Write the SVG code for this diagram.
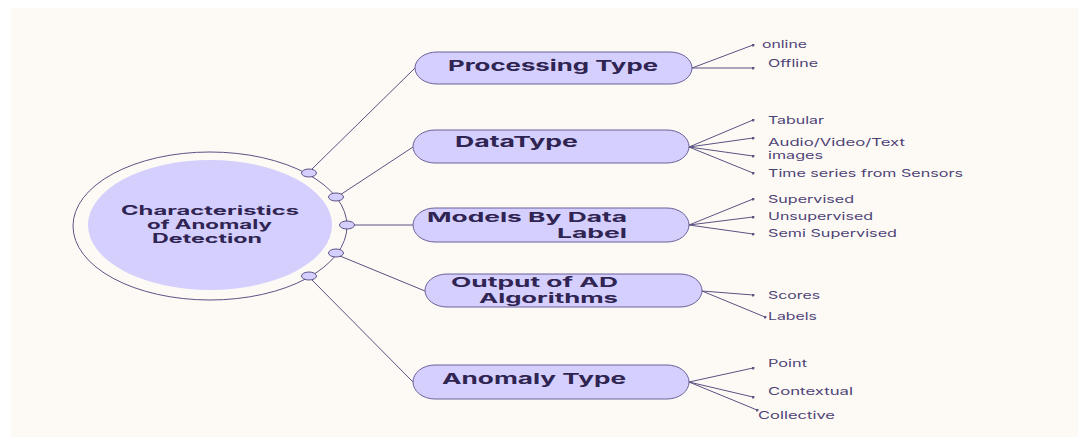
<svg xmlns="http://www.w3.org/2000/svg" width="1078" height="437" viewBox="0 0 1078 437">
<defs>
<marker id="dot" viewBox="0 0 4 4" refX="2" refY="2" markerWidth="3" markerHeight="3" markerUnits="userSpaceOnUse"><circle cx="2" cy="2" r="2" fill="#5b5182"/></marker>
<style>
.bg{fill:#fdfaf5}
.pill{fill:#d4cffc;stroke:#6b6099;stroke-width:1}
.hub{fill:#d4cffc;stroke:#5d5387;stroke-width:1}
.ln{stroke:#5b5182;stroke-width:1;fill:none}
.leaf{stroke:#5b5182;stroke-width:1;fill:none;marker-end:url(#dot)}
.ht{font-family:Inter,"Liberation Sans",sans-serif;font-weight:700;fill:#2f2452;font-size:15px}
.ht2{font-family:Inter,"Liberation Sans",sans-serif;font-weight:700;fill:#2f2452;font-size:13.5px}
.ct{font-family:Inter,"Liberation Sans",sans-serif;font-weight:700;fill:#2f2452;font-size:12.5px}
.lt{font-family:Inter,"Liberation Sans",sans-serif;fill:#4d4275;font-size:10.5px}
</style>
</defs>
<rect x="0" y="0" width="1078" height="437" fill="#ffffff"/>
<rect class="bg" x="11" y="8" width="1067" height="429"/>

<g id="connectors">
<line class="ln" x1="312" y1="169" x2="415" y2="68"/>
<line class="ln" x1="340" y1="195" x2="413" y2="147"/>
<line class="ln" x1="354" y1="225" x2="413" y2="225"/>
<line class="ln" x1="340" y1="256" x2="425" y2="291"/>
<line class="ln" x1="312" y1="280" x2="413" y2="382"/>

<line class="leaf" x1="692" y1="68" x2="753" y2="45"/>
<line class="leaf" x1="692" y1="68" x2="753" y2="68"/>

<line class="leaf" x1="689" y1="147" x2="753" y2="120"/>
<line class="leaf" x1="689" y1="147" x2="753" y2="138"/>
<line class="leaf" x1="689" y1="147" x2="753" y2="156"/>
<line class="leaf" x1="689" y1="147" x2="753" y2="173"/>

<line class="leaf" x1="689" y1="225" x2="753" y2="199"/>
<line class="leaf" x1="689" y1="225" x2="753" y2="217"/>
<line class="leaf" x1="689" y1="225" x2="753" y2="234"/>

<line class="leaf" x1="702" y1="291" x2="753" y2="295"/>
<line class="leaf" x1="702" y1="291" x2="765" y2="317"/>

<line class="leaf" x1="689" y1="382" x2="753" y2="368"/>
<line class="leaf" x1="689" y1="382" x2="753" y2="397"/>
<line class="leaf" x1="689" y1="382" x2="757" y2="410"/>
</g>

<g id="center">
<ellipse cx="210" cy="226" rx="137" ry="74" fill="none" stroke="#5d5387" stroke-width="1"/>
<ellipse cx="210" cy="225" rx="122" ry="65" fill="#d4cffc"/>
<text class="ct" x="121" y="215" textLength="178" lengthAdjust="spacingAndGlyphs">Characteristics</text>
<text class="ct" x="147" y="229" textLength="125" lengthAdjust="spacingAndGlyphs">of Anomaly</text>
<text class="ct" x="152" y="243" textLength="110" lengthAdjust="spacingAndGlyphs">Detection</text>
<ellipse class="hub" cx="309" cy="173" rx="7.5" ry="4"/>
<ellipse class="hub" cx="336" cy="197" rx="7.5" ry="4"/>
<ellipse class="hub" cx="347" cy="225" rx="7.5" ry="4"/>
<ellipse class="hub" cx="336" cy="253" rx="7.5" ry="4"/>
<ellipse class="hub" cx="309" cy="276" rx="7.5" ry="4"/>
</g>

<g id="processing-type">
<rect class="pill" x="415" y="52" width="277" height="32" rx="22" ry="16"/>
<text class="ht" x="448" y="71" textLength="210" lengthAdjust="spacingAndGlyphs">Processing Type</text>
</g>
<g id="data-type">
<rect class="pill" x="413" y="130" width="276" height="33" rx="22" ry="16.5"/>
<text class="ht" x="455" y="147" textLength="123" lengthAdjust="spacingAndGlyphs">DataType</text>
</g>
<g id="models-by-data-label">
<rect class="pill" x="413" y="208" width="276" height="34" rx="22" ry="17"/>
<text class="ht2" x="427" y="222" textLength="200" lengthAdjust="spacingAndGlyphs">Models By Data</text>
<text class="ht2" x="557" y="238" textLength="70" lengthAdjust="spacingAndGlyphs">Label</text>
</g>
<g id="output-of-ad">
<rect class="pill" x="425" y="274" width="277" height="33" rx="22" ry="16.5"/>
<text class="ht2" x="451" y="287" textLength="167" lengthAdjust="spacingAndGlyphs">Output of AD</text>
<text class="ht2" x="479" y="303" textLength="139" lengthAdjust="spacingAndGlyphs">Algorithms</text>
</g>
<g id="anomaly-type">
<rect class="pill" x="413" y="365" width="276" height="34" rx="22" ry="17"/>
<text class="ht" x="442" y="384" textLength="184" lengthAdjust="spacingAndGlyphs">Anomaly Type</text>
</g>

<g id="leaves">
<text class="lt" x="762" y="48" textLength="45" lengthAdjust="spacingAndGlyphs">online</text>
<text class="lt" x="768" y="67" textLength="50" lengthAdjust="spacingAndGlyphs">Offline</text>
<text class="lt" x="768" y="124" textLength="56" lengthAdjust="spacingAndGlyphs">Tabular</text>
<text class="lt" x="768" y="146" textLength="137" lengthAdjust="spacingAndGlyphs">Audio/Video/Text</text>
<text class="lt" x="768" y="159" textLength="55" lengthAdjust="spacingAndGlyphs">images</text>
<text class="lt" x="768" y="177" textLength="195" lengthAdjust="spacingAndGlyphs">Time series from Sensors</text>
<text class="lt" x="768" y="203" textLength="86" lengthAdjust="spacingAndGlyphs">Supervised</text>
<text class="lt" x="768" y="220" textLength="105" lengthAdjust="spacingAndGlyphs">Unsupervised</text>
<text class="lt" x="768" y="237" textLength="129" lengthAdjust="spacingAndGlyphs">Semi Supervised</text>
<text class="lt" x="768" y="299" textLength="52" lengthAdjust="spacingAndGlyphs">Scores</text>
<text class="lt" x="768" y="320" textLength="49" lengthAdjust="spacingAndGlyphs">Labels</text>
<text class="lt" x="768" y="367" textLength="39" lengthAdjust="spacingAndGlyphs">Point</text>
<text class="lt" x="768" y="395" textLength="85" lengthAdjust="spacingAndGlyphs">Contextual</text>
<text class="lt" x="758" y="419" textLength="77" lengthAdjust="spacingAndGlyphs">Collective</text>
</g>
</svg>
